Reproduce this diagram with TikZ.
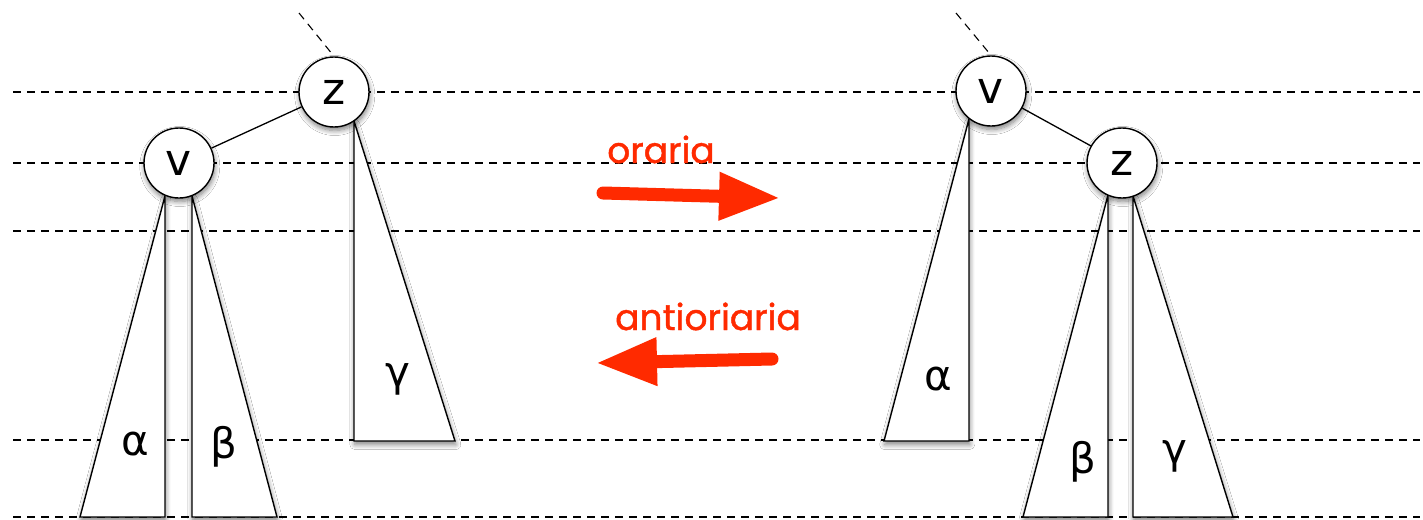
\documentclass[tikz,border=0pt]{standalone}
\usepackage{fontspec}
\setmainfont{DejaVu Sans}
\newfontfamily\redfont[FakeBold=1.2]{Poppins}
\usetikzlibrary{arrows.meta,shadows.blur}
\definecolor{arrowred}{RGB}{255,42,0}
\tikzset{
  guide/.style={draw=black, line width=1.1pt, dash pattern=on 8pt off 6pt},
  shadowed/.style={blur shadow={shadow xshift=0.8pt, shadow yshift=-3.5pt, shadow blur radius=5pt, shadow blur steps=8, shadow opacity=50}},
  treenode/.style={circle, draw, line width=1.4pt, fill=white, minimum size=70pt, inner sep=0pt,
    font=\fontsize{44}{44}\selectfont, shadowed},
  subtree/.style={draw, line width=1.4pt, fill=white, line join=miter, shadowed},
  treeedge/.style={line width=1.3pt},
  sublabel/.style={inner sep=0pt, font=\fontsize{42}{42}\selectfont},
  rotlabel/.style={text=arrowred, inner sep=0pt, font=\redfont\fontsize{36}{36}\selectfont},
  rotarrow/.style={arrowred, line width=13pt, line cap=round, -{Triangle[length=61pt,width=45pt]}}
}
\begin{document}
\begin{tikzpicture}[x=1pt,y=-1pt]
\useasboundingbox (0,0) rectangle (1423,519);
\fill[white] (0,0) rectangle (1423,519);

% level guides
\foreach \i/\yy in {1/92,2/163,3/231,4/440,5/517}{
  \coordinate (gl\i) at (13,\yy);
  \coordinate (gr\i) at (1420,\yy);
  \draw[guide] (gl\i) -- (gr\i);
}

% ---------- left tree ----------
\coordinate (p1) at (299,13);
\draw[subtree] (165,196) -- (165,517) -- (80,517) -- cycle;
\draw[subtree] (192,196) -- (192,517) -- (277,517) -- cycle;
\draw[subtree] (354,121) -- (354,441) -- (455,441) -- cycle;
\node[treenode] (z1) at (334,92) {\raisebox{-3pt}{z}};
\node[treenode] (v1) at (179,163) {\raisebox{-2.5pt}{v}};
\draw[treeedge] (z1) -- (v1);
\draw[guide, shorten >=5pt] (p1) -- (z1.north);
\node[sublabel] (la1) at (135,444) {α};
\node[sublabel] (lb1) at (224,447) {β};
\node[sublabel] (lg1) at (398,379) {γ};

% ---------- right tree ----------
\coordinate (p2) at (956,13);
\draw[subtree] (969,119) -- (969,441) -- (884,441) -- cycle;
\draw[subtree] (1108,195) -- (1108,517) -- (1023,517) -- cycle;
\draw[subtree] (1133,196) -- (1133,517) -- (1233,517) -- cycle;
\node[treenode] (v2) at (991,91) {\raisebox{-2.5pt}{v}};
\node[treenode] (z2) at (1122,163) {\raisebox{-3pt}{z}};
\draw[treeedge] (v2) -- (z2);
\draw[guide, shorten >=5pt] (p2) -- (v2.north);
\node[sublabel] (la2) at (938,379) {α};
\node[sublabel] (lb2) at (1083,462) {β};
\node[sublabel] (lg2) at (1175,456) {γ};

% ---------- rotations ----------
\coordinate (a1s) at (603,193);
\coordinate (a1e) at (780,198);
\draw[rotarrow] (a1s) -- (a1e);
\node[rotlabel, anchor=base] (cw) at (661,163) {oraria};
\coordinate (a2s) at (772,359);
\coordinate (a2e) at (596,363);
\draw[rotarrow] (a2s) -- (a2e);
\node[rotlabel, anchor=base] (ccw) at (708,330) {antioriaria};
\end{tikzpicture}
\end{document}
